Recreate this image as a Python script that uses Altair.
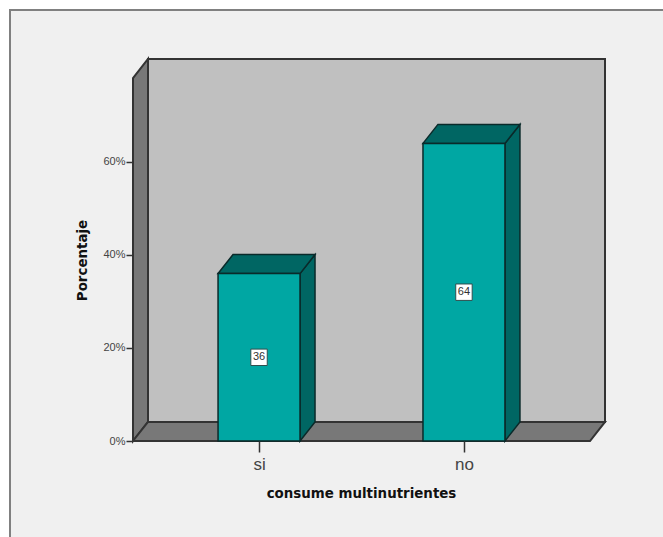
import altair as alt
import pandas as pd

categories = ["si", "no"]
percentages = [36, 64]
y_ticks = [0, 20, 40, 60]

# Chart-space geometry: one x unit per category, y in percent
positions = [1, 2]
half_bar = 0.2
x_left, x_right = 0.385, 2.615
depth_x, depth_y = 0.0732, 4.09
y_top = 78.06
x_domain = [x_left, x_right + depth_x]
y_domain = [0, y_top + depth_y]

WALL = "#c0c0c0"
SIDE = "#787878"
EDGE = "#333333"
FRONT = "#00a7a3"
SHADE = "#006663"
BAR_EDGE = "#0a2a2a"
FONT = "Liberation Sans"
TITLE_FONT = "DejaVu Sans"

x_scale = alt.Scale(domain=x_domain, nice=False, zero=False)
y_scale = alt.Scale(domain=y_domain, nice=False)

x_axis = alt.Axis(
    values=positions,
    labelExpr="datum.value == 1 ? 'si' : 'no'",
    grid=False,
    domain=False,
    tickColor=EDGE,
    tickSize=11,
    tickWidth=1.5,
    labelFont=FONT,
    labelFontSize=17,
    labelColor="#444444",
    labelPadding=4,
    title="consume multinutrientes",
    titleFont=TITLE_FONT,
    titleFontSize=13.4,
    titleFontWeight="bold",
    titleColor="#111111",
    titlePadding=14,
    titleX=228,
    zindex=1,
)
y_axis = alt.Axis(
    values=y_ticks,
    labelExpr="datum.value + '%'",
    grid=False,
    domain=False,
    tickColor=EDGE,
    tickSize=7,
    tickWidth=1.5,
    labelFont=FONT,
    labelFontSize=11,
    labelColor="#444444",
    labelPadding=1,
    title="Porcentaje",
    titleFont=TITLE_FONT,
    titleFontSize=13.4,
    titleFontWeight="bold",
    titleColor="#111111",
    titleX=-44,
    titleY=201,
    zindex=1,
)


def X(field):
    return alt.X(field, scale=x_scale, axis=x_axis)


def Y(field):
    return alt.Y(field, scale=y_scale, axis=y_axis)


def side_face(x0, top, fill, stroke=EDGE, width=2):
    """Slanted right- or left-hand face of a box, from its front edge to the back."""
    df = pd.DataFrame({
        "x": [x0, x0 + depth_x],
        "lo": [0, depth_y],
        "hi": [top, top + depth_y],
    })
    return alt.Chart(df).mark_area(
        orient="vertical", fill=fill, stroke=stroke, strokeWidth=width, opacity=1
    ).encode(x=X("x:Q"), y=Y("lo:Q"), y2="hi:Q")


def flat_face(x0, x1, level, fill, stroke=EDGE, width=2):
    """Slanted horizontal face: box lid or chart floor."""
    df = pd.DataFrame({
        "y": [level, level + depth_y],
        "a": [x0, x0 + depth_x],
        "b": [x1, x1 + depth_x],
    })
    return alt.Chart(df).mark_area(
        orient="horizontal", fill=fill, stroke=stroke, strokeWidth=width, opacity=1
    ).encode(y=Y("y:Q"), x=X("a:Q"), x2="b:Q")


bars = pd.DataFrame({
    "pos": positions,
    "cat": categories,
    "value": percentages,
    "mid": [v / 2 for v in percentages],
    "x0": [p - half_bar for p in positions],
    "x1": [p + half_bar for p in positions],
    "zero": [0, 0],
})

# Panel surrounding the plot; its right and bottom edges run off the page
frame = alt.Chart(pd.DataFrame({"k": [0]})).mark_rect(
    fill="#f0f0f0", stroke="#808080", strokeWidth=2
).encode(
    x=alt.value(-123),
    x2=alt.value(560),
    y=alt.value(-49),
    y2=alt.value(520),
)

back_wall = alt.Chart(pd.DataFrame({
    "a": [x_left + depth_x], "b": x_domain[1:], "lo": [depth_y], "hi": [y_domain[1]],
})).mark_rect(fill=WALL, stroke=EDGE, strokeWidth=2).encode(
    x=X("a:Q"), x2="b:Q", y=Y("lo:Q"), y2="hi:Q",
)

left_wall = side_face(x_left, y_top, SIDE)
floor = flat_face(x_left, x_right, 0, SIDE)

fronts = alt.Chart(bars).mark_rect(fill=FRONT, stroke=BAR_EDGE, strokeWidth=1.5).encode(
    x=X("x0:Q"), x2="x1:Q", y=Y("zero:Q"), y2="value:Q",
)

box_parts = []
for x1, x0, v in zip(bars["x1"], bars["x0"], percentages):
    box_parts.append(side_face(x1, v, SHADE, BAR_EDGE, 1.5))
    box_parts.append(flat_face(x0, x1, v, SHADE, BAR_EDGE, 1.5))

label_boxes = alt.Chart(bars).mark_square(
    size=270, fill="white", stroke="#2f4f4f", strokeWidth=1, opacity=1
).encode(x=X("pos:Q"), y=Y("mid:Q"))

label_text = alt.Chart(bars).mark_text(
    font=FONT, fontSize=11, color="#333333", baseline="middle", align="center"
).encode(x=X("pos:Q"), y=Y("mid:Q"), text="value:Q")

chart = alt.layer(
    frame, back_wall, left_wall, floor, *box_parts, fronts, label_boxes, label_text
).properties(
    width=472,
    height=382,
    autosize=alt.AutoSizeParams(type="none"),
    padding={"left": 133, "top": 59, "right": 58, "bottom": 96},
    background="white",
).configure_view(stroke=None)

chart.save("out.html", embed_options={"renderer": "svg", "actions": False})
